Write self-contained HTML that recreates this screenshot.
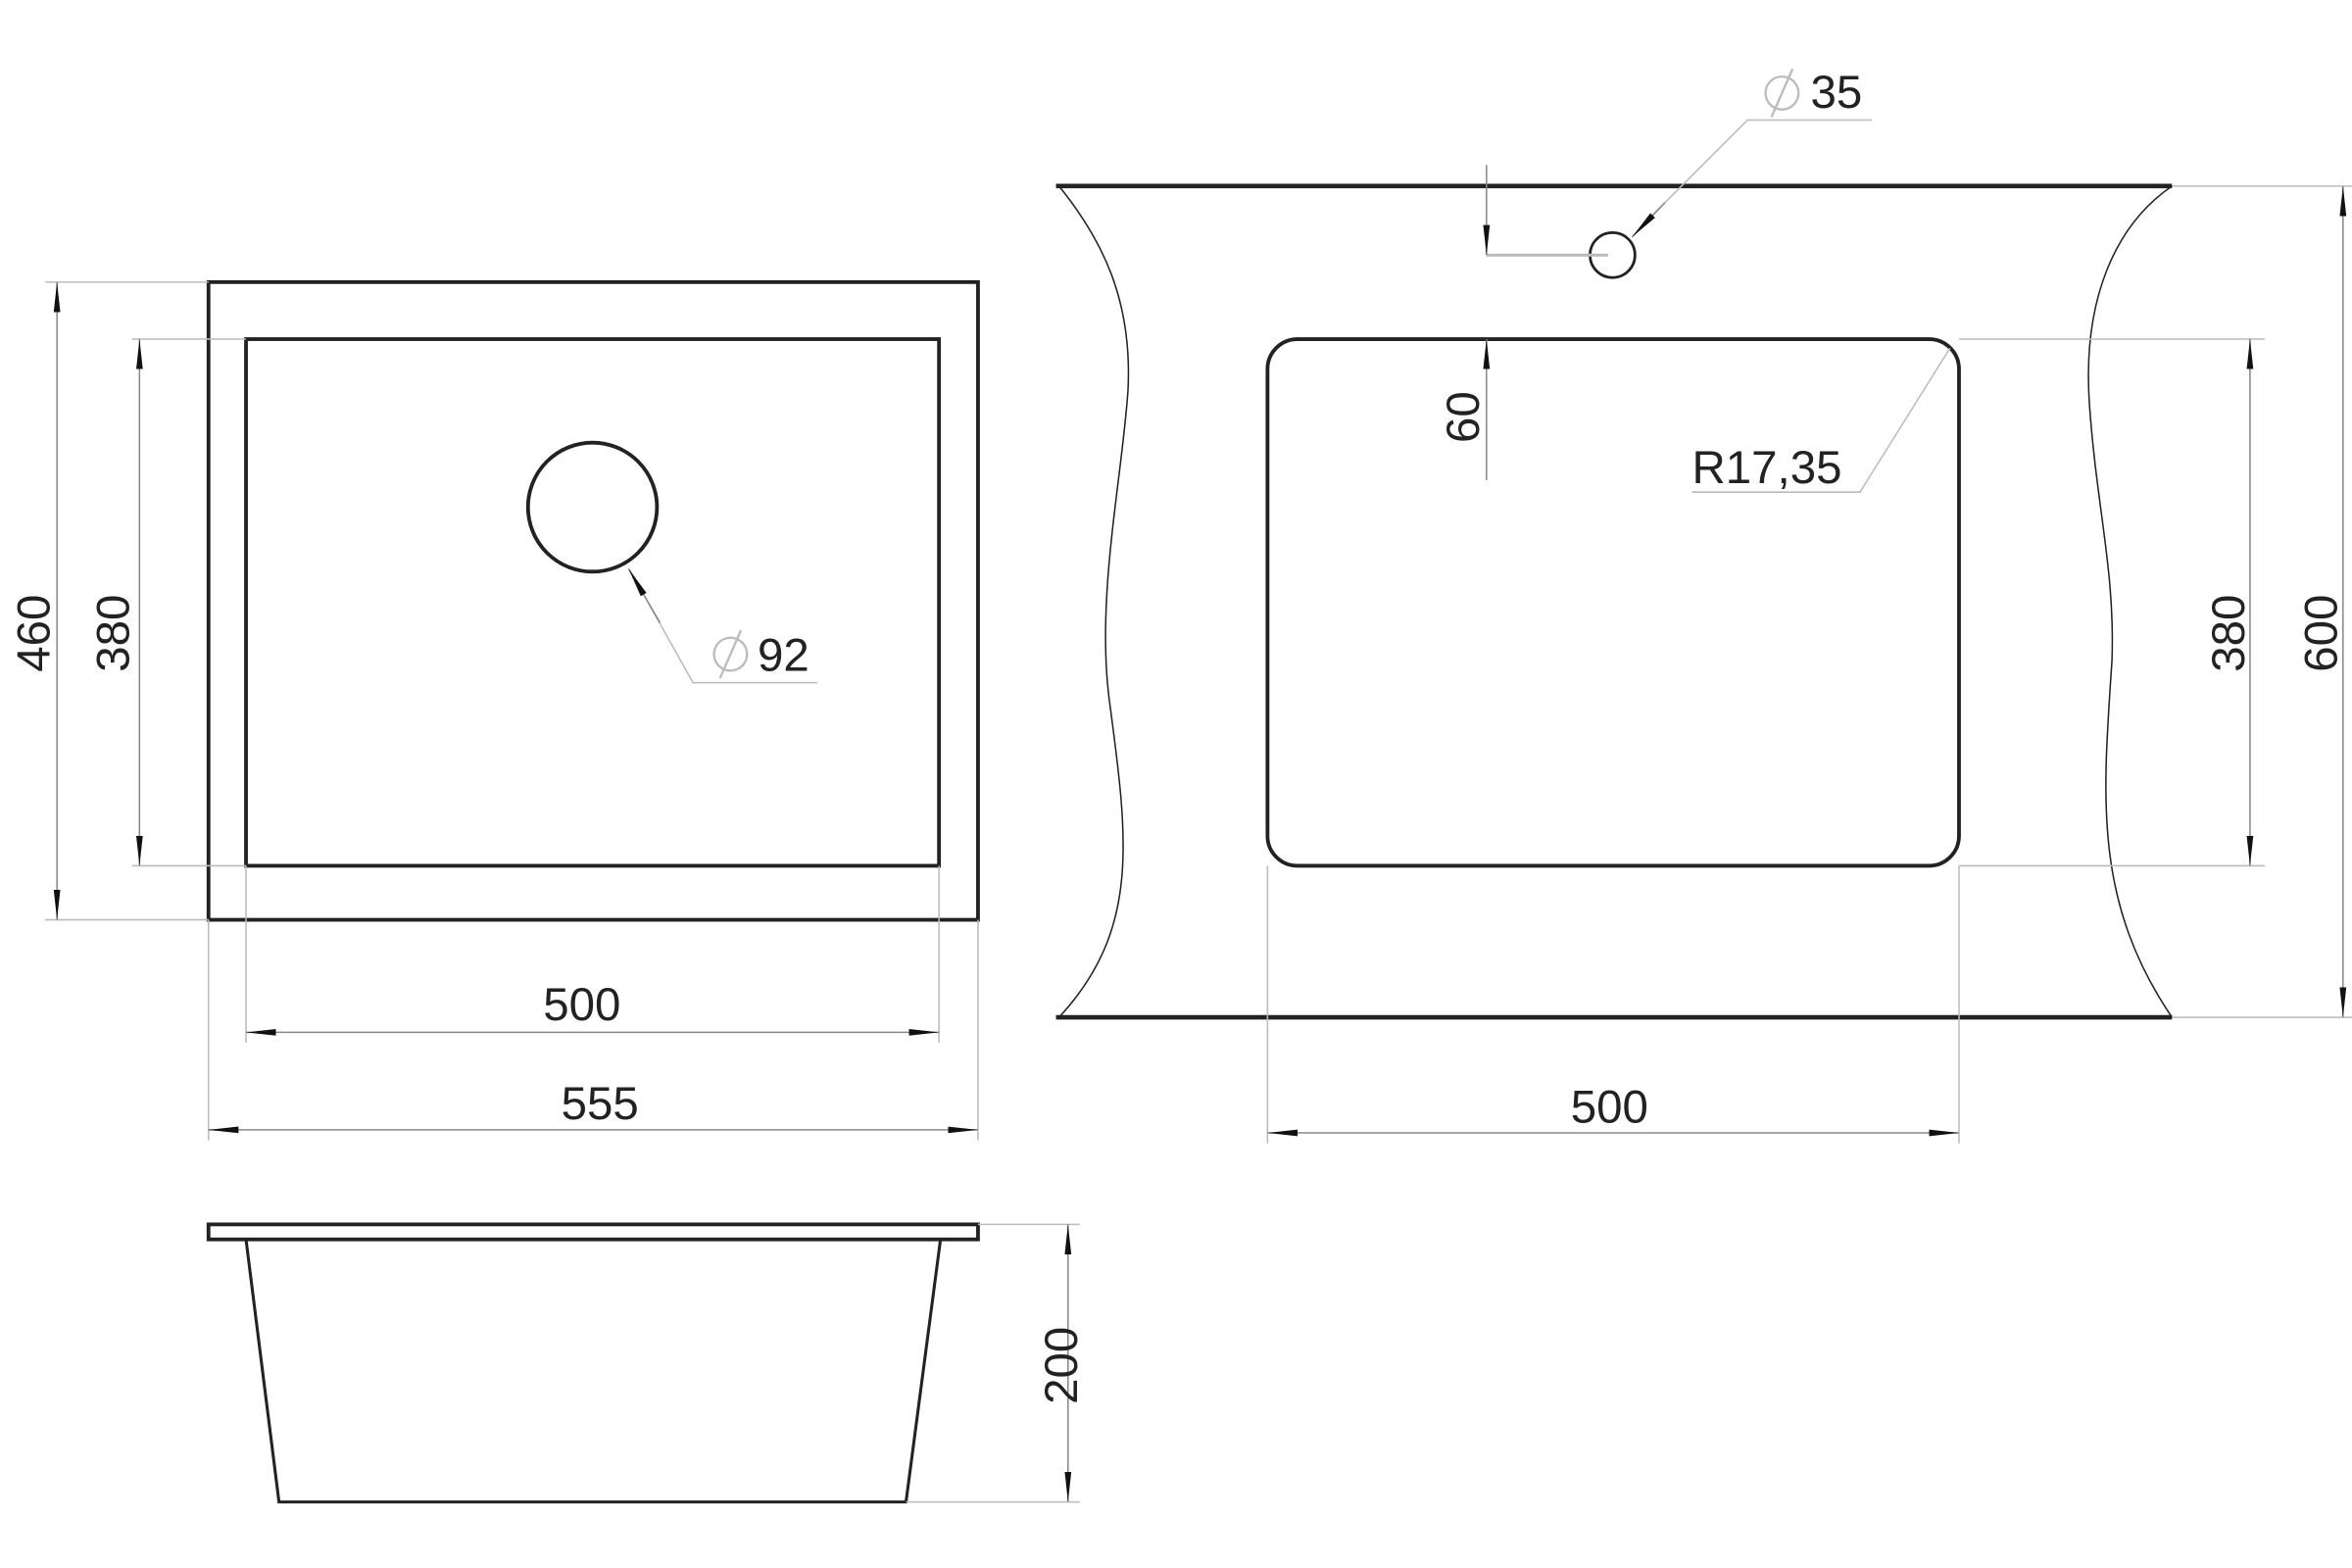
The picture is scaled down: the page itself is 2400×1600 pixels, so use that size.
<!DOCTYPE html>
<html><head><meta charset="utf-8"><style>
html,body{margin:0;padding:0;background:#fff;width:2400px;height:1600px;overflow:hidden}
svg{display:block}
text{font-family:"Liberation Sans","DejaVu Sans",sans-serif;fill:#222}
</style></head><body>
<svg width="2400" height="1600" viewBox="0 0 1568 1045" preserveAspectRatio="none" xmlns="http://www.w3.org/2000/svg">
<defs>
<marker id="a" viewBox="0 0 20 6" refX="20" refY="3" markerWidth="20" markerHeight="6" markerUnits="userSpaceOnUse" orient="auto-start-reverse"><path d="M0,0.8 L20,3 L0,5.2 Z" fill="#111"/></marker>
</defs>
<g fill="none" stroke="#222">
<!-- left plan -->
<rect x="139" y="188" width="513" height="425" stroke-width="2.5"/>
<rect x="164" y="226" width="462" height="351" stroke-width="2.5"/>
<circle cx="395" cy="338" r="43" stroke-width="2.5"/>
<!-- ext lines -->
<g stroke="#bbb" stroke-width="1">
<line x1="30" y1="188" x2="139" y2="188"/><line x1="30" y1="613" x2="139" y2="613"/>
<line x1="88" y1="226" x2="164" y2="226"/><line x1="88" y1="577" x2="164" y2="577"/>
<line x1="164" y1="577" x2="164" y2="695"/><line x1="626" y1="577" x2="626" y2="695"/>
<line x1="139" y1="613" x2="139" y2="760"/><line x1="652" y1="613" x2="652" y2="760"/>
<polyline points="420,380 462,455 545,455"/>
</g>
<g stroke="#888" stroke-width="1">
<line x1="38" y1="188" x2="38" y2="613" marker-start="url(#a)" marker-end="url(#a)"/>
<line x1="93" y1="226" x2="93" y2="577" marker-start="url(#a)" marker-end="url(#a)"/>
<line x1="164" y1="688" x2="626" y2="688" marker-start="url(#a)" marker-end="url(#a)"/>
<line x1="139" y1="753" x2="652" y2="753" marker-start="url(#a)" marker-end="url(#a)"/>
<line x1="440" y1="415" x2="419" y2="379" marker-end="url(#a)"/>
</g>
<!-- side view -->
<rect x="139" y="816" width="513" height="10" stroke-width="2.5"/>
<polyline points="164,826 186,1001 604,1001 627,826" stroke-width="2"/>
<g stroke="#bbb" stroke-width="1">
<line x1="652" y1="816" x2="720" y2="816"/><line x1="604" y1="1001" x2="720" y2="1001"/>
</g>
<line x1="712" y1="816" x2="712" y2="1001" stroke="#888" stroke-width="1" marker-start="url(#a)" marker-end="url(#a)"/>
<!-- right plan -->
<line x1="704" y1="124" x2="1448" y2="124" stroke-width="3"/>
<line x1="704" y1="678" x2="1448" y2="678" stroke-width="3"/>
<path d="M706,124 C735,160 755,200 752,260 C748,320 730,400 740,470 C752,560 760,620 706,678" stroke-width="1"/>
<path d="M1448,124 C1410,150 1388,200 1393,270 C1398,340 1410,380 1408,440 C1402,530 1395,600 1448,678" stroke-width="1"/>
<rect x="845" y="226" width="461" height="351" rx="20" stroke-width="2.5"/>
<circle cx="1075" cy="170" r="15" stroke-width="1.8"/>
<g stroke="#bbb" stroke-width="1">
<line x1="991" y1="170" x2="1072" y2="170" stroke-width="2"/>
<line x1="1306" y1="226" x2="1510" y2="226"/><line x1="1306" y1="577" x2="1510" y2="577"/>
<line x1="1448" y1="124" x2="1568" y2="124"/><line x1="1448" y1="678" x2="1568" y2="678"/>
<line x1="845" y1="577" x2="845" y2="762"/><line x1="1306" y1="577" x2="1306" y2="762"/>
<polyline points="1300,232 1240,328 1128,328"/>
<polyline points="1095,150 1165,80 1248,80"/>
</g>
<g stroke="#888" stroke-width="1">
<line x1="991" y1="124" x2="991" y2="170" marker-end="url(#a)"/>
<line x1="991" y1="320" x2="991" y2="226" marker-end="url(#a)"/>
<line x1="991" y1="124" x2="991" y2="110"/>
<line x1="1500" y1="226" x2="1500" y2="577" marker-start="url(#a)" marker-end="url(#a)"/>
<line x1="1562" y1="124" x2="1562" y2="678" marker-start="url(#a)" marker-end="url(#a)"/>
<line x1="845" y1="755" x2="1306" y2="755" marker-start="url(#a)" marker-end="url(#a)"/>
<line x1="1110" y1="135" x2="1088" y2="158" marker-end="url(#a)"/>
</g>
</g>
<g font-size="31">
<text x="33" y="422" text-anchor="middle" transform="rotate(-90 33 422)">460</text>
<text x="86" y="422" text-anchor="middle" transform="rotate(-90 86 422)">380</text>
<text x="388" y="680" text-anchor="middle">500</text>
<text x="400" y="746" text-anchor="middle">555</text>
<text x="718" y="910" text-anchor="middle" transform="rotate(-90 718 910)">200</text>
<text x="986" y="278" text-anchor="middle" transform="rotate(-90 986 278)">60</text>
<text x="1496" y="422" text-anchor="middle" transform="rotate(-90 1496 422)">380</text>
<text x="1558" y="422" text-anchor="middle" transform="rotate(-90 1558 422)">600</text>
<text x="1073" y="748" text-anchor="middle">500</text>
<text x="1128" y="322">R17,35</text>
<text x="505" y="447">92</text>
<text x="1207" y="72">35</text>
</g>
<g fill="none" stroke="#bbb" stroke-width="1.5">
<circle cx="487" cy="436" r="11"/><line x1="480" y1="452" x2="494" y2="420"/>
<circle cx="1188" cy="62" r="11"/><line x1="1181" y1="78" x2="1195" y2="46"/>
</g>
</svg>
</body></html>
